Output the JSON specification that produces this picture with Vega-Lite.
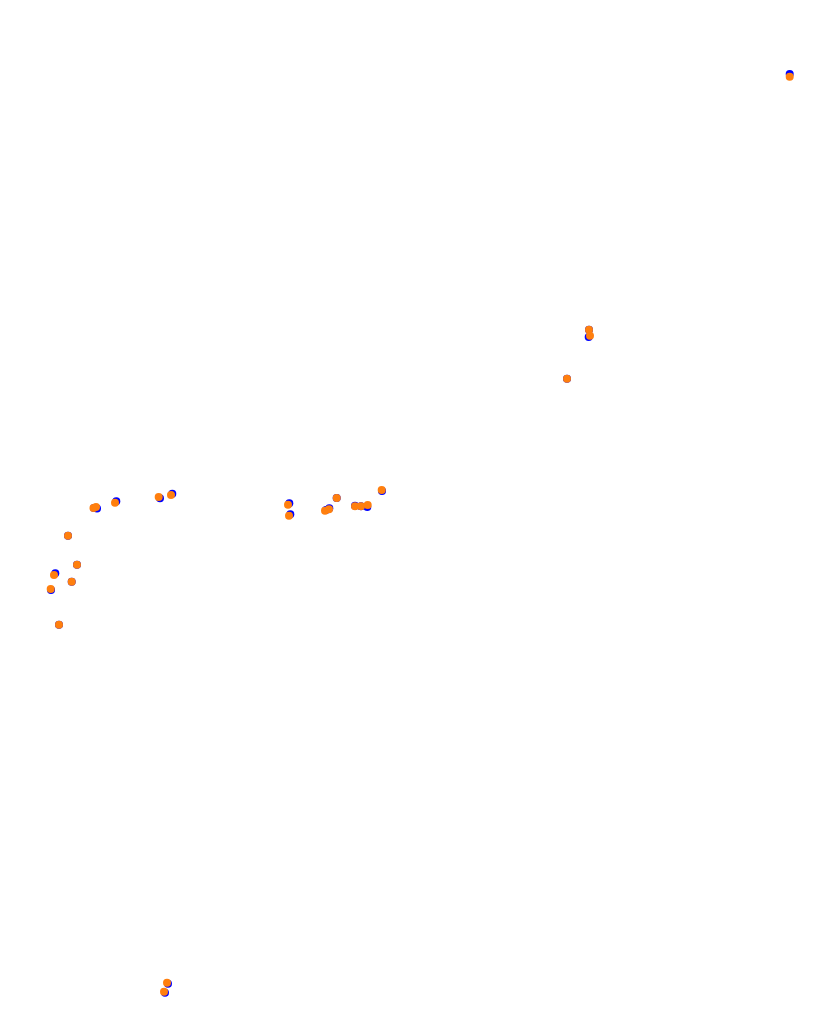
{
  "$schema": "https://vega.github.io/schema/vega-lite/v6.json",
  "autosize": {"type": "fit", "contains": "padding"},
  "width": 831,
  "height": 1033,
  "padding": 0,
  "background": "white",
  "config": {"view": {"stroke": null}},
  "data": {"values": [
    {"s": "blue", "x": 97, "y": 524.5},
    {"s": "blue", "x": 94, "y": 525},
    {"s": "blue", "x": 116.3, "y": 531.7},
    {"s": "blue", "x": 160, "y": 534.7},
    {"s": "blue", "x": 172.3, "y": 539.3},
    {"s": "blue", "x": 68, "y": 497.3},
    {"s": "blue", "x": 77, "y": 468.3},
    {"s": "blue", "x": 55.3, "y": 459.7},
    {"s": "blue", "x": 71.7, "y": 451.3},
    {"s": "blue", "x": 51, "y": 443},
    {"s": "blue", "x": 59, "y": 408.3},
    {"s": "blue", "x": 289.3, "y": 529.7},
    {"s": "blue", "x": 290.3, "y": 518.7},
    {"s": "blue", "x": 326, "y": 523},
    {"s": "blue", "x": 329.3, "y": 524.7},
    {"s": "blue", "x": 336.7, "y": 535},
    {"s": "blue", "x": 355, "y": 527.3},
    {"s": "blue", "x": 361, "y": 526.7},
    {"s": "blue", "x": 367.3, "y": 526},
    {"s": "blue", "x": 382, "y": 542},
    {"s": "blue", "x": 589, "y": 703.3},
    {"s": "blue", "x": 588.7, "y": 696},
    {"s": "blue", "x": 567, "y": 654.3},
    {"s": "blue", "x": 789.7, "y": 959},
    {"s": "blue", "x": 168, "y": 49.3},
    {"s": "blue", "x": 165, "y": 40.3},
    {"s": "orange", "x": 93.5, "y": 525},
    {"s": "orange", "x": 96, "y": 526},
    {"s": "orange", "x": 115, "y": 530.3},
    {"s": "orange", "x": 158.7, "y": 536},
    {"s": "orange", "x": 171, "y": 538},
    {"s": "orange", "x": 68, "y": 497.3},
    {"s": "orange", "x": 77, "y": 468.3},
    {"s": "orange", "x": 54, "y": 458},
    {"s": "orange", "x": 71.7, "y": 451.3},
    {"s": "orange", "x": 50.7, "y": 444},
    {"s": "orange", "x": 59, "y": 408.3},
    {"s": "orange", "x": 288, "y": 528.3},
    {"s": "orange", "x": 289, "y": 517.3},
    {"s": "orange", "x": 325, "y": 522.3},
    {"s": "orange", "x": 329, "y": 523.7},
    {"s": "orange", "x": 336.7, "y": 535},
    {"s": "orange", "x": 355, "y": 526.7},
    {"s": "orange", "x": 361, "y": 526.7},
    {"s": "orange", "x": 367.7, "y": 528},
    {"s": "orange", "x": 381.7, "y": 543},
    {"s": "orange", "x": 589, "y": 703.3},
    {"s": "orange", "x": 590, "y": 697.3},
    {"s": "orange", "x": 567, "y": 654.3},
    {"s": "orange", "x": 789.7, "y": 956.3},
    {"s": "orange", "x": 167, "y": 50.3},
    {"s": "orange", "x": 164, "y": 41.3}
  ]},
  "mark": {"type": "circle", "size": 64, "opacity": 1},
  "encoding": {
    "x": {"field": "x", "type": "quantitative", "scale": {"domain": [0, 831], "nice": false, "zero": false}, "axis": null},
    "y": {"field": "y", "type": "quantitative", "scale": {"domain": [0, 1033], "nice": false, "zero": false}, "axis": null},
    "color": {"field": "s", "type": "nominal", "scale": {"domain": ["blue", "orange"], "range": ["#0000ff", "#ff7f0e"]}, "legend": null}
  }
}
